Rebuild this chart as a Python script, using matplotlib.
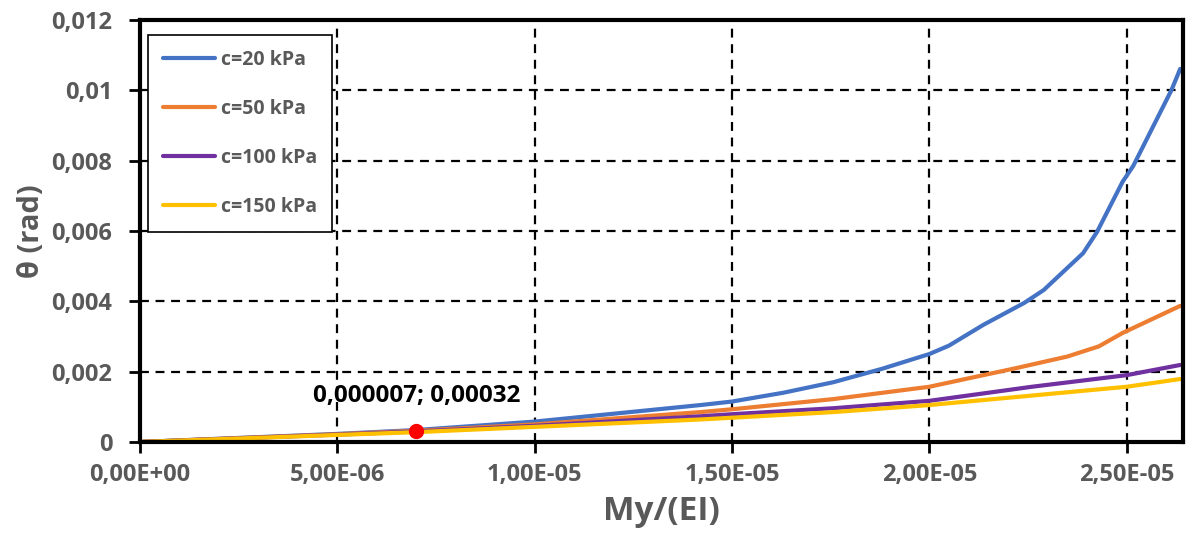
import numpy as np
import matplotlib.pyplot as plt

# curvature My/(EI) vs rotation theta for several cohesion values
x_e6 = [0, 5.0, 7.0, 10.0, 14.2, 15.0, 16.3, 17.57, 18.8, 20.0, 20.5, 21.37, 22.4, 22.9,
        23.9, 24.25, 24.9, 25.17, 26.14, 26.36]
theta_c20 = [0, 0.00023, 0.00034, 0.00058, 0.00105, 0.00115, 0.0014, 0.0017, 0.00208, 0.0025,
             0.00274, 0.00333, 0.00395, 0.00432, 0.00537, 0.00597, 0.0074, 0.00785, 0.01001, 0.01061]

x2_e6 = [0, 5.0, 7.0, 10.0, 14.2, 15.0, 17.57, 20.0, 22.2, 23.5, 24.3, 24.9, 26.36]
theta_c50 = [0, 0.00022, 0.00032, 0.0005, 0.00085, 0.00093, 0.00122, 0.00157, 0.0021, 0.00243,
             0.00272, 0.0031, 0.00387]

x3_e6 = [0, 5.0, 7.0, 10.0, 14.2, 15.0, 17.57, 20.0, 22.6, 25.0, 26.36]
theta_c100 = [0, 0.00021, 0.0003, 0.00046, 0.00073, 0.00079, 0.00096, 0.00117, 0.00157, 0.0019, 0.00219]
theta_c150 = [0, 0.0002, 0.00028, 0.00043, 0.00064, 0.00069, 0.00085, 0.00105, 0.00132, 0.00157, 0.00179]

labels = ['c=20 kPa', 'c=50 kPa', 'c=100 kPa', 'c=150 kPa']
colors = ['#4472C4', '#ED7D31', '#7030A0', '#FFC000']

point_x = 0.000007
point_y = 0.00032

xticks = [0, 5e-6, 1e-5, 1.5e-5, 2e-5, 2.5e-5]
xticklabels = ['0,00E+00', '5,00E-06', '1,00E-05', '1,50E-05', '2,00E-05', '2,50E-05']
yticks = [0, 0.002, 0.004, 0.006, 0.008, 0.01, 0.012]
yticklabels = ['0', '0,002', '0,004', '0,006', '0,008', '0,01', '0,012']

plt.rcParams['font.family'] = ['Open Sans', 'DejaVu Sans']

fig = plt.figure(figsize=(11.87, 5.36), dpi=100)
ax = fig.add_axes([0.118, 0.1754, 0.8786, 0.7873])

series = [(x_e6, theta_c20), (x2_e6, theta_c50), (x3_e6, theta_c100), (x3_e6, theta_c150)]
for (xs, ys), lab, col in zip(series, labels, colors):
    ax.plot(np.array(xs) * 1e-6, ys, color=col, lw=3, label=lab, solid_capstyle='round',
            solid_joinstyle='round')

ax.plot(point_x, point_y, 'o', color='#FF0000', ms=10, zorder=5)
ax.annotate('0,000007; 0,00032', (point_x, point_y), xytext=(0, 25), textcoords='offset points',
            ha='center', va='center', fontsize=17.5, fontweight='bold', color='black')

ax.set_xlim(0, 2.643e-5)
ax.set_ylim(0, 0.012)
ax.set_xticks(xticks)
ax.set_xticklabels(xticklabels)
ax.set_yticks(yticks)
ax.set_yticklabels(yticklabels)
ax.tick_params(axis='both', labelsize=17, labelcolor='#595959', length=8, width=2,
               direction='out')
ax.tick_params(axis='y', pad=12)
ax.tick_params(axis='x', pad=7)
for lab in ax.get_xticklabels() + ax.get_yticklabels():
    lab.set_fontweight('bold')

ax.grid(True, color='black', ls=(0, (4, 3)), lw=1.6)
for sp in ax.spines.values():
    sp.set_linewidth(3)

ax.set_xlabel('My/(EI)', fontsize=24, fontweight='bold', color='#595959', labelpad=6)
ax.set_ylabel('θ (rad)', fontsize=21, fontweight='bold', color='#595959', labelpad=4)

leg = ax.legend(loc='upper left', bbox_to_anchor=(0.0077, 0.9645), borderaxespad=0,
                frameon=True, fancybox=False, edgecolor='black', framealpha=1, fontsize=14,
                labelspacing=1.5, handlelength=2.7, borderpad=0.75, handletextpad=0.3)
leg.get_frame().set_linewidth(1.2)
for t in leg.get_texts():
    t.set_color('#595959')
    t.set_fontweight('bold')

fig.savefig('out.png', dpi=100)
